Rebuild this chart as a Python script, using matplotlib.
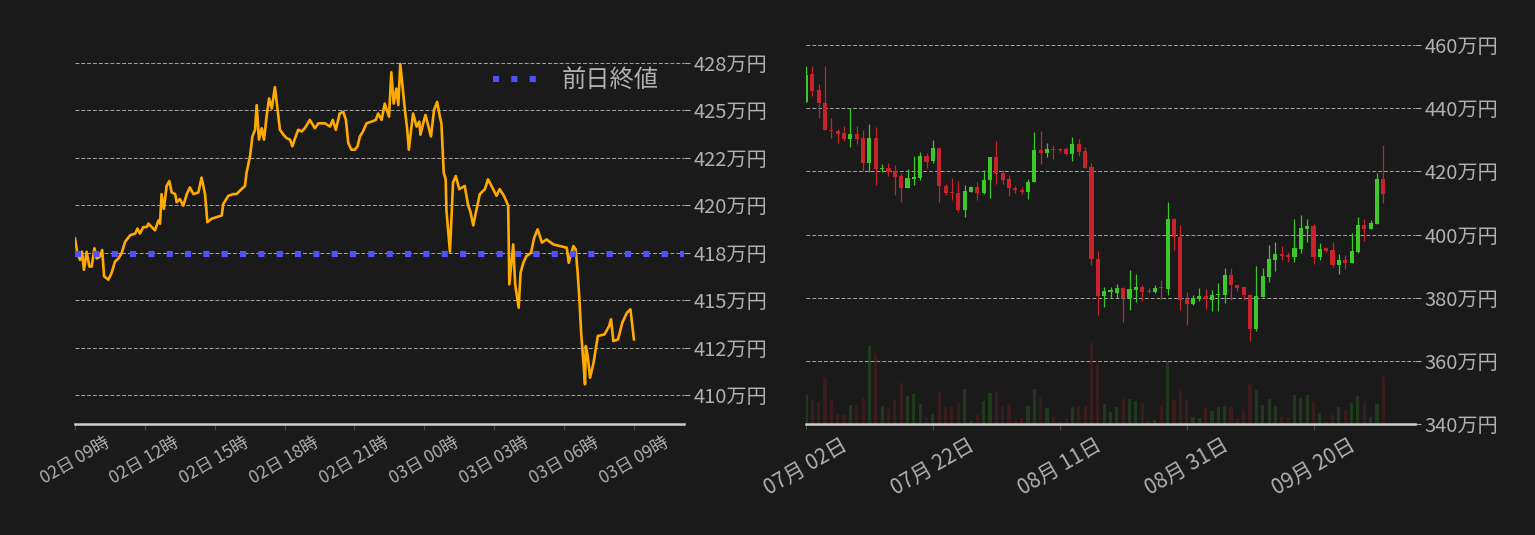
import matplotlib

matplotlib.use("Agg")
import matplotlib.pyplot as plt  # noqa: E402
import matplotlib.dates as mdates  # noqa: E402
import numpy as np  # noqa: E402
import pandas as pd  # noqa: E402

plt.rcParams["font.family"] = ["Noto Sans CJK JP", "DejaVu Sans"]

BG = "#1a1a1a"
TXT = "#b0b0b0"
GRID = "#a8a8a8"

# ---- intraday (left) : minutes after 02日 09:00, price in 万円
intraday_start = pd.Timestamp("2023-10-02 09:00")
intraday_min = [
    0, 6, 13, 18, 23, 30, 37, 43, 50, 56, 64, 70, 75, 86, 94, 103, 112, 120, 129, 142,
    155, 161, 167, 176, 185, 189, 206, 215, 219, 223, 229, 236, 243, 249, 258, 262, 270, 279, 288, 296,
    305, 318, 326, 335, 341, 352, 365, 378, 382, 395, 408, 416, 429, 438, 442, 451, 457, 464, 468, 474,
    481, 487, 494, 500, 507, 515, 521, 528, 537, 545, 554, 560, 567, 575, 584, 592, 605, 618, 627, 644,
    657, 664, 672, 682, 691, 698, 704, 712, 721, 728, 734, 742, 751, 764, 775, 781, 790, 798, 809, 815,
    821, 828, 833, 838, 845, 850, 856, 860, 871, 880, 887, 890, 897, 903, 917, 925, 933, 940, 944, 950,
    955, 957, 966, 974, 981, 990, 1004, 1013, 1019, 1026, 1033, 1043, 1056, 1064, 1073, 1086, 1094, 1105, 1112, 1116,
    1119, 1129, 1134, 1143, 1148, 1155, 1163, 1175, 1183, 1192, 1203, 1215, 1232, 1249, 1267, 1272, 1284, 1290, 1295, 1299,
    1304, 1310, 1314, 1316, 1321, 1327, 1336, 1347, 1364, 1376, 1381, 1387, 1399, 1410, 1422, 1431, 1440,
]
intraday_price = [
    418.25, 417.47, 417.12, 417.55, 416.60, 417.55, 416.77, 416.77, 417.73, 417.20, 417.29, 417.64, 416.25, 416.08, 416.42, 417.03, 417.20, 417.47, 418.07, 418.42,
    418.51, 418.77, 418.51, 418.85, 418.85, 419.03, 418.68, 419.20, 419.03, 420.59, 419.81, 421.02, 421.28, 420.68, 420.59, 420.16, 420.33, 419.98, 420.59, 420.94,
    420.59, 420.68, 421.46, 420.59, 419.11, 419.29, 419.38, 419.46, 420.07, 420.50, 420.59, 420.59, 420.85, 421.02, 421.72, 422.59, 423.63, 423.98, 425.28, 423.46,
    424.06, 423.46, 424.76, 425.63, 425.10, 426.23, 425.19, 423.98, 423.72, 423.54, 423.46, 423.11, 423.54, 423.98, 423.89, 424.06, 424.50, 424.06, 424.32, 424.32,
    424.15, 424.50, 423.98, 424.84, 424.93, 424.50, 423.28, 422.93, 422.93, 423.11, 423.63, 423.89, 424.32, 424.41, 424.50, 424.84, 424.50, 425.36, 424.67, 427.01,
    425.36, 426.15, 425.28, 427.45, 426.06, 425.02, 423.98, 422.93, 424.84, 424.15, 424.41, 423.72, 424.32, 424.76, 423.63, 425.02, 425.45, 424.67, 424.32, 421.72,
    421.37, 419.72, 417.55, 421.20, 421.54, 420.85, 421.02, 419.98, 419.64, 418.94, 419.64, 420.59, 420.85, 421.37, 421.02, 420.50, 420.85, 420.50, 420.16, 419.98,
    415.83, 417.94, 415.83, 414.60, 416.45, 416.97, 417.32, 417.50, 418.29, 418.73, 418.03, 418.20, 417.94, 417.85, 417.76, 416.97, 417.85, 417.68, 416.45, 415.22,
    413.28, 411.70, 410.56, 412.58, 412.05, 410.91, 411.70, 413.11, 413.19, 413.63, 413.99, 412.84, 412.93, 413.81, 414.34, 414.51, 412.93,
]
prev_close = 417.45
prev_close_label = "前日終値"
intraday_yticks = [410, 412.5, 415, 417.5, 420, 422.5, 425, 427.5]

# ---- daily candles (right), 07-02 .. 10-01, price in 万円
daily_start = pd.Timestamp("2023-07-02")
daily_open = [
    442.1, 450.7, 445.7, 441.7, 433.2, 432.9, 432.0, 430.2, 431.7, 430.4,
    422.7, 430.4, 420.7, 421.0, 420.1, 418.5, 414.6, 417.7, 417.9, 424.8,
    423.3, 427.3, 415.4, 413.3, 413.2, 407.7, 413.6, 415.1, 413.0, 417.1,
    424.5, 419.5, 417.6, 414.8, 414.2, 413.3, 416.5, 426.7, 425.8, 427.0,
    426.9, 427.0, 425.5, 428.5, 426.4, 421.4, 392.3, 380.4, 381.8, 381.6,
    383.2, 380.0, 382.5, 383.5, 382.2, 381.9, 383.2, 382.8, 404.9, 399.3,
    379.7, 378.1, 379.7, 380.6, 379.4, 380.9, 380.9, 387.3, 384.1, 383.5,
    380.9, 370.2, 380.3, 386.6, 392.0, 393.9, 393.6, 392.9, 395.5, 401.8,
    402.7, 392.9, 395.6, 395.2, 390.4, 392.0, 391.1, 394.5, 403.1, 401.8,
    403.4, 417.6,
]
daily_high = [
    453.5, 453.2, 447.6, 453.5, 437.0, 433.5, 434.2, 439.9, 434.2, 433.2,
    435.1, 433.9, 422.3, 422.7, 422.0, 419.6, 420.7, 424.8, 426.0, 425.7,
    429.9, 427.3, 416.0, 417.9, 416.8, 415.7, 415.4, 416.7, 420.4, 424.5,
    429.5, 420.3, 418.9, 415.4, 415.1, 417.5, 432.6, 432.9, 429.1, 428.2,
    427.3, 427.6, 431.0, 430.1, 427.6, 422.6, 394.8, 383.5, 383.5, 384.4,
    383.4, 388.8, 387.6, 384.1, 383.2, 384.1, 385.7, 410.3, 405.3, 403.1,
    381.9, 381.0, 383.2, 382.8, 382.5, 384.7, 389.5, 389.5, 384.1, 383.5,
    381.3, 390.1, 389.5, 396.7, 397.7, 396.4, 394.5, 404.9, 406.2, 404.9,
    403.4, 397.4, 396.0, 397.7, 393.9, 393.6, 400.5, 405.6, 404.9, 404.6,
    419.6, 428.3,
]
daily_low = [
    441.8, 443.9, 436.8, 433.0, 430.5, 429.0, 429.5, 427.7, 428.6, 420.1,
    419.9, 415.8, 419.7, 418.6, 412.6, 410.2, 414.6, 415.8, 417.1, 421.1,
    422.7, 410.2, 412.6, 410.8, 407.1, 405.5, 413.6, 411.0, 412.8, 411.5,
    416.1, 416.1, 412.1, 413.0, 412.7, 411.1, 416.5, 422.4, 424.6, 424.0,
    426.1, 425.2, 423.3, 424.9, 421.1, 390.2, 374.6, 377.1, 379.9, 379.8,
    372.2, 376.2, 378.5, 378.8, 381.4, 381.4, 379.7, 380.9, 395.2, 376.2,
    371.2, 377.8, 379.1, 376.5, 375.9, 375.9, 378.2, 379.2, 382.2, 379.2,
    366.2, 369.6, 380.3, 385.1, 388.5, 392.0, 391.4, 391.4, 394.2, 397.7,
    390.7, 392.0, 394.5, 389.8, 387.6, 389.2, 391.1, 394.2, 398.0, 401.8,
    403.4, 410.0,
]
daily_close = [
    450.6, 445.5, 441.5, 433.0, 432.7, 431.7, 430.2, 431.7, 430.2, 422.7,
    430.7, 420.8, 421.0, 419.9, 418.3, 414.6, 417.9, 418.2, 424.8, 423.0,
    427.3, 415.2, 413.0, 413.1, 407.7, 413.9, 415.1, 413.0, 417.3, 424.5,
    419.3, 417.4, 414.6, 414.0, 413.3, 416.7, 426.7, 425.8, 427.0, 426.8,
    426.6, 425.5, 428.5, 426.1, 421.1, 392.1, 380.4, 382.0, 382.3, 383.2,
    380.0, 382.8, 383.5, 381.9, 381.9, 383.2, 383.0, 404.9, 399.1, 379.4,
    378.1, 380.0, 380.6, 379.7, 380.9, 381.3, 387.3, 383.9, 383.2, 380.7,
    370.2, 380.6, 386.9, 392.3, 393.9, 393.3, 392.9, 395.8, 402.1, 402.7,
    392.9, 395.5, 394.8, 390.4, 392.0, 391.1, 394.8, 403.1, 401.8, 403.7,
    417.6, 412.8,
]
# relative volume (no scale shown on the chart)
daily_volume = [
    83, 68, 63, 137, 68, 29, 26, 56, 56, 74,
    224, 206, 53, 44, 68, 119, 80, 86, 59, 20,
    29, 92, 50, 50, 62, 101, 8, 26, 65, 89,
    92, 53, 59, 11, 16, 53, 101, 80, 47, 20,
    8, 14, 50, 53, 53, 233, 173, 59, 35, 50,
    77, 71, 65, 62, 11, 11, 56, 182, 68, 101,
    68, 20, 17, 47, 38, 50, 53, 53, 14, 44,
    116, 98, 56, 71, 53, 20, 17, 83, 74, 83,
    65, 32, 8, 32, 50, 41, 62, 80, 65, 20,
    59, 137,
]
daily_yticks = [340, 360, 380, 400, 420, 440, 460]

UP = "#3cc828"
DOWN = "#c8232d"


def style_axis(ax, xlabelsize):
    ax.set_facecolor("none")
    for side in ("top", "left", "right"):
        ax.spines[side].set_visible(False)
    ax.spines["bottom"].set_color("#cfcfcf")
    ax.spines["bottom"].set_linewidth(1.8)
    ax.yaxis.tick_right()
    ax.yaxis.grid(True, linestyle=(0, (4, 2)), color=GRID, linewidth=0.7)
    ax.set_axisbelow(True)
    ax.tick_params(axis="x", length=4, color="#444444", labelcolor=TXT,
                   labelsize=xlabelsize, labelrotation=30, pad=3)
    ax.tick_params(axis="y", length=4, color=GRID, labelcolor=TXT, labelsize=14.5, pad=3)


fig = plt.figure(figsize=(15.35, 5.35), dpi=100, facecolor=BG)
W, H = 1535.0, 535.0
rect_l = [75 / W, 111 / H, 609 / W, 394 / H]
rect_r = [806 / W, 111 / H, 609 / W, 394 / H]

# ---------------- left: intraday line
ax1 = fig.add_axes(rect_l)
t = mdates.date2num(intraday_start + pd.to_timedelta(np.asarray(intraday_min), unit="min"))
ax1.plot(t, intraday_price, color="#ffaa00", linewidth=1.9, zorder=3)
ax1.axhline(prev_close, color="#5050ff", linewidth=4.4, linestyle=(0, (1, 2)),
            label=prev_close_label, zorder=4)
ax1.set_xlim(mdates.date2num(intraday_start),
             mdates.date2num(intraday_start + pd.Timedelta(hours=26.15)))
ax1.set_ylim(408.47, 429.24)
ax1.set_yticks(intraday_yticks)
ax1.yaxis.set_major_formatter(plt.FuncFormatter(lambda v, _: f"{v:.0f}万円"))
ax1.xaxis.set_major_locator(mdates.HourLocator(byhour=range(0, 24, 3)))
ax1.xaxis.set_major_formatter(mdates.DateFormatter("%d日 %H時"))
style_axis(ax1, 12.5)
leg = ax1.legend(loc="center right", bbox_to_anchor=(0.995, 0.872), frameon=False,
                 fontsize=17.5, handlelength=1.85, handletextpad=1.0, labelcolor=TXT)

# ---------------- right: daily candles + volume
d = mdates.date2num(daily_start + pd.to_timedelta(np.arange(len(daily_open)), unit="D"))
o = np.asarray(daily_open)
c = np.asarray(daily_close)
colors = np.where(c >= o, UP, DOWN)

ax_vol = fig.add_axes(rect_r)
ax_vol.set_facecolor(BG)
ax_vol.bar(d, daily_volume, width=0.5, color=colors, alpha=0.18, linewidth=0)
ax_vol.set_ylim(0, 1137)
ax_vol.axis("off")

ax2 = fig.add_axes(rect_r)
ax2.vlines(d, daily_low, daily_high, colors=colors, linewidth=0.9, zorder=3)
body = np.maximum(np.abs(c - o), 0.35)
ax2.bar(d, body, bottom=np.minimum(o, c), width=0.65, color=colors, linewidth=0, zorder=4)
xlim = (d[0], d[0] + 96)
ax2.set_xlim(*xlim)
ax_vol.set_xlim(*xlim)
ax2.set_ylim(340, 464.75)
ax2.set_yticks(daily_yticks)
ax2.yaxis.set_major_formatter(plt.FuncFormatter(lambda v, _: f"{v:.0f}万円"))
ax2.set_xticks(d[::20])
ax2.xaxis.set_major_formatter(mdates.DateFormatter("%m月 %d日"))
style_axis(ax2, 15)

fig.savefig("out.png", dpi=100, facecolor=BG)
